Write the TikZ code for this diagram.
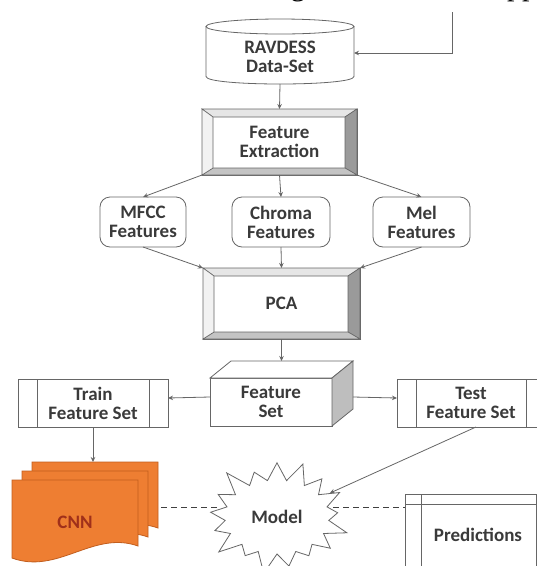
\documentclass[tikz,border=0pt]{standalone}
\usepackage{fontspec}
\setmainfont{Carlito}
\newfontfamily\captionserif{Liberation Serif}
\usetikzlibrary{arrows.meta,calc,shapes.symbols}
\definecolor{lncol}{HTML}{666666}
\definecolor{txtcol}{HTML}{3A3A3A}
\definecolor{orfill}{HTML}{EE7E32}
\definecolor{ordraw}{HTML}{C25E1E}
\definecolor{cnntxt}{HTML}{A0301A}
\definecolor{bvtop}{HTML}{E6E6E6}
\definecolor{bvleft}{HTML}{F2F2F2}
\definecolor{bvright}{HTML}{9A9A9A}
\definecolor{bvbot}{HTML}{C4C4C4}
\definecolor{cubeside}{HTML}{BEBEBE}
\newcommand{\bevelbox}[6]{%
  \node[box, minimum width=#4pt, minimum height=#5pt] (#1) at (#2,#3) {#6};
  \coordinate (#1-a) at ($(#1.north west)+(11,8)$);
  \coordinate (#1-b) at ($(#1.north east)+(-12,8)$);
  \coordinate (#1-c) at ($(#1.south east)+(-12,-7)$);
  \coordinate (#1-d) at ($(#1.south west)+(11,-7)$);
  \filldraw[bevelpart, fill=bvtop] (#1.north west) -- (#1.north east) -- (#1-b) -- (#1-a) -- cycle;
  \filldraw[bevelpart, fill=bvright] (#1.north east) -- (#1.south east) -- (#1-c) -- (#1-b) -- cycle;
  \filldraw[bevelpart, fill=bvbot] (#1.south east) -- (#1.south west) -- (#1-d) -- (#1-c) -- cycle;
  \filldraw[bevelpart, fill=bvleft] (#1.south west) -- (#1.north west) -- (#1-a) -- (#1-d) -- cycle;
}
\begin{document}
\begin{tikzpicture}[x=1pt,y=-1pt,
  lbl/.style={font=\fontsize{19}{19}\selectfont\bfseries, text=txtcol, align=center},
  conn/.style={draw=lncol, line width=0.8pt},
  arr/.style={conn, -{Stealth[length=5pt,width=4.5pt]}},
  box/.style={draw=lncol, line width=0.8pt, fill=white, outer sep=0pt, lbl},
  rbox/.style={box, rounded corners=10pt},
  bevelpart/.style={draw=lncol, line width=0.6pt},
  docshape/.style={fill=orfill, draw=ordraw, line width=0.8pt},
  dashln/.style={draw=black!75, line width=1pt, dash pattern=on 6pt off 4pt},
  cutcap/.style={font=\captionserif\fontsize{30}{30}\selectfont, inner sep=0pt, text=black}
]
\useasboundingbox (0,0) rectangle (537,566);
\fill[white] (0,0) rectangle (537,566);

% partial caption line above (cut off by the top edge)
\node[cutcap, anchor=base] (capg) at (298,-5) {g};
\node[cutcap, anchor=base west] (capp) at (507,-5) {pp};

% RAVDESS cylinder
\filldraw[fill=white, draw=lncol, line width=0.8pt]
  (206,26.5) -- (206,76.5) .. controls (206,86.5) and (354,86.5) .. (354,76.5) -- (354,26.5);
\draw[draw=lncol, line width=0.8pt, fill=white] (280,26.5) ellipse [x radius=74, y radius=7.5];
\node[lbl, minimum width=148pt, minimum height=54pt, outer sep=0pt] (ravdess) at (280,57) {RAVDESS\\Data-Set};
\coordinate (topend) at (452,12);
\draw[arr] (topend) |- ([yshift=4pt]ravdess.east);

% Feature extraction
\bevelbox{fe}{279.5}{142}{155}{66}{Feature\\Extraction}
\draw[arr] (ravdess.south) -- (fe.north);

% Feature boxes
\node[rbox, minimum width=86pt, minimum height=50pt] (mfcc) at (143,222) {MFCC\\Features};
\node[rbox, minimum width=98pt, minimum height=50pt] (chroma) at (281,222) {Chroma\\Features};
\node[rbox, minimum width=97pt, minimum height=50pt] (mel) at (421.5,222) {Mel\\Features};
\draw[arr] (fe.south west) -- (mfcc.north);
\draw[arr] (fe.south) -- (chroma.north);
\draw[arr] (fe.south east) -- (mel.north);

% PCA
\bevelbox{pca}{281.5}{303.5}{157}{71}{PCA}
\draw[arr] (mfcc.south) -- (pca.north west);
\draw[arr] (chroma.south) -- (pca.north);
\draw[arr] (mel.south) -- (pca.north east);

% Feature Set cuboid
\node[box, minimum width=122pt, minimum height=48pt] (fset) at (271,402) {Feature\\Set};
\filldraw[fill=white, draw=lncol, line width=0.8pt] (fset.north west) -- ++(21,-17) -- ++(122,0) -- (fset.north east) -- cycle;
\filldraw[fill=cubeside, draw=lncol, line width=0.8pt] (fset.north east) -- ++(21,-17) -- ++(0,48) -- (fset.south east) -- cycle;
\coordinate (fsettop) at ($(fset.north)+(0,-17)$);
\draw[arr] (pca.south) -- (pca.south |- fsettop);

% Train / Test
\node[box, minimum width=150pt, minimum height=48pt] (train) at (93,403) {Train\\Feature Set};
\draw[conn] ($(train.north west)+(19,0)$) -- ($(train.south west)+(19,0)$);
\draw[conn] ($(train.north east)+(-19,0)$) -- ($(train.south east)+(-19,0)$);
\node[box, minimum width=148pt, minimum height=48pt] (test) at (471,403) {Test\\Feature Set};
\draw[conn] ($(test.north west)+(19,0)$) -- ($(test.south west)+(19,0)$);
\draw[conn] ($(test.north east)+(-19,0)$) -- ($(test.south east)+(-19,0)$);
\draw[arr] ([yshift=5pt]fset.west) -- ([yshift=5pt]train.east);
\draw[arr] ([xshift=21pt,yshift=5pt]fset.east) -- ([yshift=5pt]test.west);

% CNN multi-document
\filldraw[docshape] (32,462) -- (158,462) -- (158,528) .. controls (113,512) and (78,557) .. (32,540) -- cycle;
\filldraw[docshape] (22,471) -- (148,471) -- (148,537) .. controls (103,521) and (68,566) .. (22,549) -- cycle;
\filldraw[docshape] (12,480) -- (138,480) -- (138,546) .. controls (93,530) and (58,575) .. (12,558) -- cycle;
\node[font=\fontsize{19}{19}\selectfont\bfseries, text=cnntxt] (cnn) at (75,522) {CNN};
\coordinate (cnnback) at (93,462);
\draw[arr] (train.south) -- (train.south |- cnnback);

% Model starburst
\node[starburst, draw=lncol, line width=0.8pt, fill=white, minimum width=152pt, minimum height=122pt,
      starburst point height=24pt, starburst points=17, lbl] (model) at (277,517) {Model};
\draw[arr] ([xshift=5pt]test.south) -- (model);

% Predictions
\node[draw=lncol, line width=0.8pt, fill=white, anchor=north west, minimum width=131pt, minimum height=100pt, outer sep=0pt] (pred) at (405,494) {};
\draw[conn] ($(pred.north west)+(0,10)$) -- ($(pred.north east)+(0,10)$);
\draw[conn] ($(pred.north west)+(16,0)$) -- ($(pred.south west)+(16,0)$);
\node[lbl] (predtext) at (478,535) {Predictions};

% dashed links
\coordinate (dl) at (161,507);
\draw[dashln] (dl) -- (model.west |- dl);
\draw[dashln] (model.east |- dl) -- (pred.west |- dl);
\end{tikzpicture}
\end{document}
